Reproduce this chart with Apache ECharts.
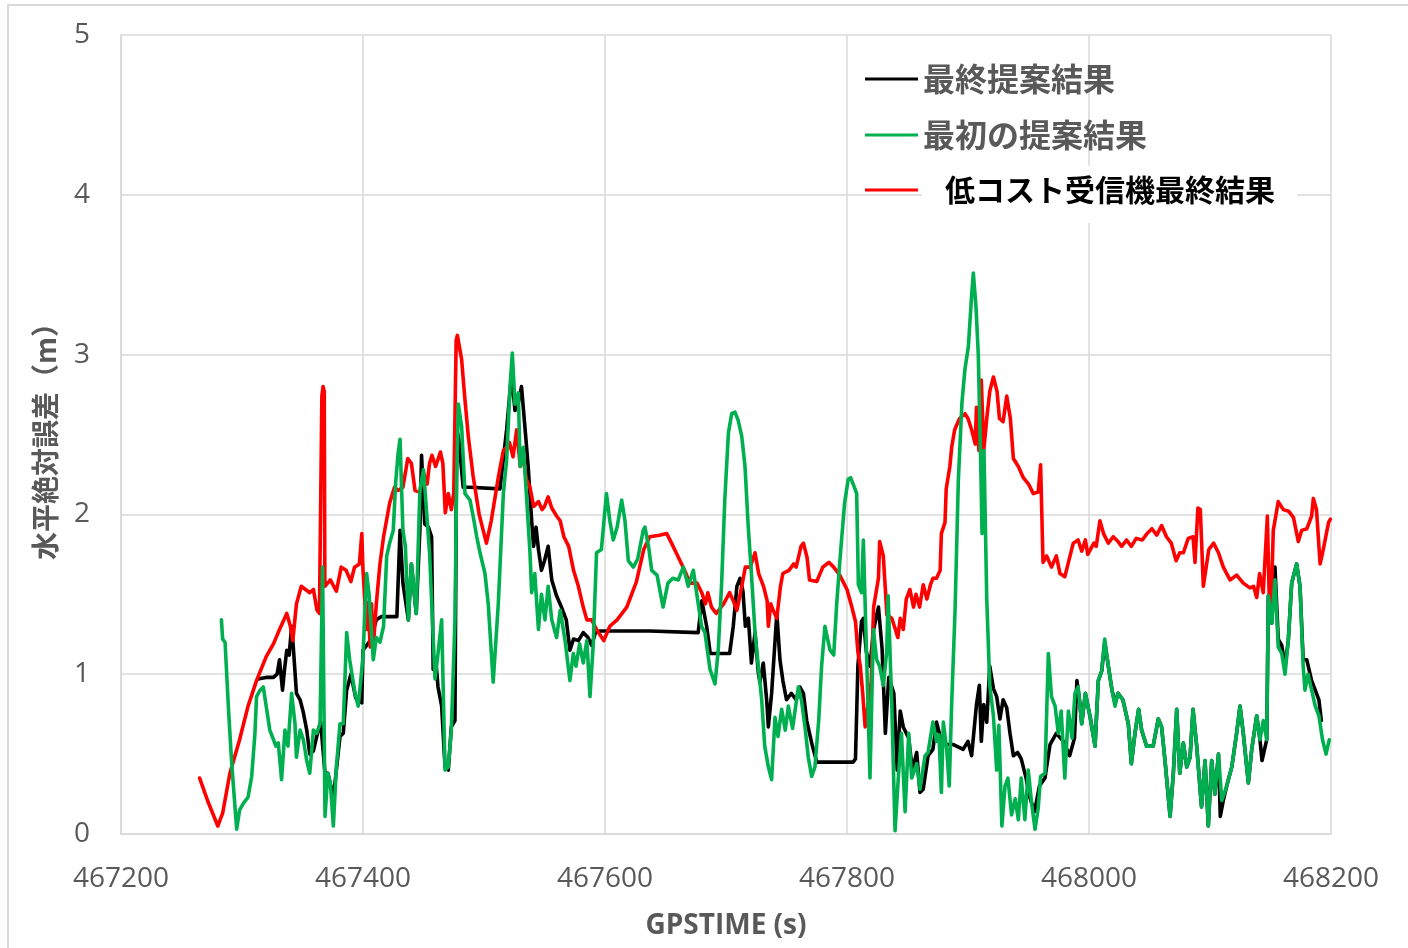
<!DOCTYPE html>
<html><head><meta charset="utf-8">
<script src="https://cdn.jsdelivr.net/npm/echarts@6/dist/echarts.min.js"></script>
<style>html,body{margin:0;padding:0;background:#fff}#c{width:1408px;height:948px}</style>
</head><body><div id="c"></div>
<script>
const seriesNames = ['最終提案結果', '最初の提案結果', '低コスト受信機最終結果'];
const seriesColors = ['#000000', '#00b050', '#ff0000'];
const xTicks = [467200, 467400, 467600, 467800, 468000, 468200];
const yTicks = [0, 1, 2, 3, 4, 5];

// 最終提案結果 (black)
const finalResult = [
[467313,0.97],[467320,0.98],[467326,0.98],[467329,1.0],[467331,1.09],[467333.5,0.90],[467335,1.02],[467337,1.15],[467339,1.12],[467341,1.30],[467342.4,1.17],[467345,0.88],[467348,0.84],[467350.7,0.76],[467353.5,0.65],[467356,0.50],[467359,0.52],[467363,0.65],[467365,0.70],
[467368.6,0.38],[467371,0.38],[467375.5,0.23],[467378,0.40],[467381,0.61],[467383.7,0.63],[467386.5,0.90],[467390,1.0],[467394,0.85],[467399,0.82],[467400,1.15],[467406,1.21],[467411,1.34],[467415,1.36],[467422,1.36],[467428,1.36],[467430.6,1.90],[467433,1.57],[467437.5,1.34],[467440,1.69],[467444,1.38],[467447,1.90],[467448.4,2.37],[467451,1.94],[467454,1.92],[467456.7,1.86],[467458,1.03],[467460,1.10],[467462,0.92],[467465,0.80],[467467.8,0.42],[467470.5,0.40],[467473,0.67],[467476,0.71],[467477.4,2.53],[467479,2.48],[467482.8,2.17],[467488.4,2.17],[467513.2,2.16],[467518.7,2.53],[467522.8,2.88],[467525.6,2.65],[467528.4,2.70],[467531,2.80],[467534,2.53],[467536.5,2.30],[467539.4,1.96],[467541,1.80],[467543,1.92],[467545,1.78],[467547.5,1.65],[467550,1.71],[467553,1.80],[467556,1.59],[467560,1.49],[467564,1.42],[467568,1.34],[467571,1.15],[467574,1.22],[467578,1.21],[467582,1.26],[467586,1.23],[467589,1.18],[467592,1.26],[467596,1.27],[467637,1.27],[467677,1.26],[467680,1.46],[467682,1.38],[467684,1.30],[467687,1.13],[467703,1.13],[467706,1.30],[467709,1.55],[467711.6,1.60],[467714,1.52],[467716,1.30],[467718.5,1.35],[467721,1.07],[467724,1.26],[467726.7,1.01],[467728,0.95],[467730.8,1.07],[467733.6,0.84],[467735,0.67],[467737.7,0.88],[467742,1.38],[467744.6,1.09],[467747,0.96],[467750,0.84],[467754,0.88],[467758,0.84],[467761,0.92],[467764,0.88],[467766.7,0.71],[467770.8,0.57],[467775,0.45],[467805,0.45],[467807,0.47],[467809,1.05],[467812,1.33],[467813.5,1.35],[467816,1.14],[467819,1.05],[467822,1.28],[467826,1.42],[467829,1.16],[467831.7,0.63],[467834.5,0.98],[467838.7,0.88],[467841.5,0.40],[467844,0.77],[467846.5,0.67],[467851,0.60],[467854,0.40],[467857.6,0.51],[467860.3,0.26],[467863,0.28],[467867,0.49],[467871,0.53],[467874,0.70],[467878,0.58],[467882,0.56],[467888,0.56],[467896,0.53],[467900,0.58],[467903,0.49],[467907,0.81],[467909.4,0.93],[467911,0.58],[467913,0.81],[467915.5,0.70],[467918,1.05],[467921,0.91],[467923.7,0.86],[467926.4,0.72],[467929,0.84],[467932,0.79],[467934.7,0.63],[467937.5,0.49],[467941,0.51],[467944,0.47],[467948,0.35],[467951,0.23],[467955,0.14],[467959,0.30],[467963.6,0.35],[467967.8,0.56],[467973,0.63],[467978.8,0.58],[467984,0.49],[467988,0.60],[467990,0.96],[467992,0.85],[467994,0.69],
[467997,0.88],[468001,0.73],[468005,0.55],[468007.7,0.96],[468010.5,1.02],[468013,1.20],[468016,1.05],[468019,0.90],[468021.5,0.82],[468024,0.88],[468028,0.84],[468032.5,0.69],[468035,0.44],[468038,0.63],[468041,0.78],[468043.5,0.65],[468047.6,0.55],[468053,0.55],[468057.3,0.72],[468060,0.67],[468062.8,0.46],[468067,0.11],[468069.7,0.38],[468072.5,0.78],[468075,0.38],[468078,0.57],[468080.8,0.42],[468083.5,0.48],[468086,0.78],[468089,0.55],[468093,0.17],[468095.9,0.46],[468098.6,0.05],[468101.4,0.46],[468104,0.25],[468107,0.50],[468108.5,0.11],[468111,0.21],[468113.8,0.30],[468118,0.42],[468122,0.63],[468124.8,0.80],[468127.5,0.63],[468131.7,0.32],[468134.5,0.53],[468138.6,0.74],[468141.3,0.59],[468143,0.46],[468146.9,0.59],[468148.2,1.49],[468151,1.32],[468153.7,1.67],[468156.4,1.22],[468159.3,1.18],[468162,1.05],[468164.7,1.21],[468167.5,1.57],[468171.6,1.69],[468174.4,1.55],[468177,1.09],[468180,1.09],[468184,0.96],[468187,0.90],[468190,0.84],[468192,0.71]
];

// 最初の提案結果 (green)
const initialResult = [
[467283,1.34],[467284,1.22],[467286,1.20],[467289,0.76],[467291.5,0.44],[467295.6,0.03],[467298,0.15],[467301,0.19],[467305,0.23],[467308,0.36],[467310.7,0.63],[467312,0.86],[467315,0.90],[467317.6,0.92],[467320,0.80],[467323,0.65],[467326,0.59],[467328,0.55],[467330,0.57],[467332.7,0.34],[467335.5,0.65],[467338,0.55],[467341,0.88],[467343.8,0.69],[467345,0.48],[467348,0.65],[467350.7,0.59],[467353.5,0.46],[467356,0.38],[467359,0.65],[467361.7,0.63],[467364.5,0.69],[467366.6,1.67],[467368.6,0.11],[467371,0.38],[467373,0.32],[467375.5,0.05],[467378,0.42],[467381,0.69],[467383.7,0.69],[467386.5,1.26],[467389,1.09],[467393.4,0.88],[467396,0.80],[467398,0.95],[467400,1.11],[467403,1.63],[467405,1.50],[467408.5,1.09],[467411,1.23],[467414,1.20],[467417,1.30],[467419.6,1.74],[467422,1.82],[467425,1.90],[467427,2.20],[467429,2.38],[467430.6,2.47],[467433,1.90],[467435,1.80],[467437.5,1.34],[467440,1.69],[467444,1.38],[467447,2.15],[467450,2.28],[467452.6,2.01],[467455,1.76],[467459.5,0.97],[467462,1.13],[467465,1.34],
[467467.8,0.40],[467470.5,0.42],[467473,0.65],[467476,1.34],[467477.4,2.22],[467478.8,2.69],[467481.5,2.55],[467484.3,2.13],[467488.4,2.09],[467491,1.99],[467494,1.86],[467496.7,1.76],[467500.8,1.63],[467503.5,1.44],[467507.6,0.95],[467511.8,1.44],[467516,2.13],[467518.7,2.34],[467521.5,2.80],[467523.4,3.01],[467525.6,2.69],[467528.4,2.76],[467529.8,2.30],[467532.5,2.42],[467535,2.13],[467538,1.76],[467539.4,1.51],[467542,1.63],[467545,1.28],[467547.5,1.50],[467550.4,1.34],[467553,1.55],[467556,1.34],[467560,1.23],[467563,1.40],[467567,1.21],[467571,0.96],[467573.8,1.13],[467576,1.05],[467579,1.19],[467582,1.07],[467585,1.21],[467587.6,0.86],[467590.3,1.19],[467593,1.76],[467597,1.78],[467601.2,2.13],[467604,1.96],[467606.8,1.84],[467610,1.92],[467613.8,2.09],[467616.5,1.96],[467619.3,1.71],[467623.4,1.67],[467627,1.72],[467631.6,1.90],[467633,1.92],[467636,1.80],[467638.6,1.65],[467643,1.62],[467648,1.42],[467652,1.57],[467656,1.60],[467660.6,1.59],[467664.7,1.67],[467668.8,1.55],[467673,1.65],[467675.7,1.51],[467679.8,1.30],[467682.6,1.26],[467686.8,1.03],[467690.9,0.94],[467693.6,1.15],[467696.4,1.57],[467699,2.09],[467702,2.51],[467704.7,2.63],[467707.4,2.64],[467710,2.59],[467713,2.49],[467715.7,2.30],[467718.4,1.92],[467721,1.63],[467724,1.26],[467726.7,1.05],[467729.5,0.84],[467732,0.55],[467735,0.42],[467737.7,0.34],[467740.5,0.73],[467743,0.61],[467746,0.78],[467749,0.65],[467751.5,0.80],[467755,0.66],[467759.8,0.92],[467762.5,0.83],[467765.3,0.67],[467768,0.48],[467770.8,0.36],[467773.5,0.42],[467776.6,0.71],[467779,1.05],[467781.8,1.30],[467784,1.22],[467786,1.15],[467789,1.12],[467791.5,1.44],[467794,1.70],[467798,2.07],[467801,2.22],[467803,2.23],[467806.6,2.16],[467808,2.13],[467809.4,1.56],[467812,1.51],[467813.5,1.84],[467816.3,1.09],[467819,0.35],[467821.8,1.28],[467824.5,1.09],[467827,1.05],[467830,0.93],[467832.8,1.14],[467834,1.49],[467837,0.81],[467839.7,0.02],[467842.4,0.35],[467845,0.63],[467848,0.14],[467851,0.63],[467853.5,0.35],[467857.6,0.44],[467860.3,0.28],[467864.5,0.49],[467867,0.51],[467871,0.70],[467874,0.58],[467876,0.62],[467878,0.26],[467879.6,0.70],[467882.4,0.53],[467884.5,0.30],[467886.5,0.81],[467889.3,1.40],[467892,2.21],[467895,2.70],[467897.5,2.91],[467900.3,3.05],[467903,3.37],[467904.4,3.51],[467906.6,3.30],[467908.5,3.00],[467910.5,2.33],[467911.6,1.88],[467913.2,2.40],[467915.5,1.47],[467918,0.93],[467921,0.74],[467923.7,0.40],[467925.5,0.68],[467928,0.05],[467930.6,0.30],[467933,0.35],[467936,0.12],[467939,0.22],[467941.6,0.09],[467944,0.35],[467947,0.09],[467949.8,0.40],[467952.6,0.19],[467955.4,0.03],[467958,0.16],[467960,0.36],[467963.6,0.38],[467966.4,1.13],[467969,0.86],[467972,0.80],[467974.6,0.63],[467977,0.77],[467980,0.35],[467983,0.77],[467986,0.60],[467988.4,0.88],
[467991,0.92],[467994,0.69],[467997,0.88],[468001,0.73],[468005,0.55],[468007.7,0.96],[468010.5,1.02],[468013,1.22],[468016,1.05],[468019,0.90],[468021.5,0.80],[468024,0.88],[468028,0.84],[468032.5,0.69],[468035,0.44],[468038,0.63],[468041,0.78],[468043.5,0.65],[468047.6,0.55],[468053,0.55],[468057.3,0.72],[468060,0.67],[468062.8,0.46],[468067,0.11],[468069.7,0.38],[468072.5,0.78],[468075,0.38],[468078,0.57],[468080.8,0.42],[468083.5,0.48],[468086,0.78],[468089,0.55],[468093,0.17],[468095.9,0.46],[468098.6,0.05],[468101.4,0.46],[468104,0.25],[468107,0.50],[468109.7,0.21],[468113.8,0.30],[468118,0.42],[468122,0.63],[468124.8,0.80],[468127.5,0.63],[468131.7,0.32],[468134.5,0.53],[468138.6,0.74],[468141.3,0.59],[468144,0.71],[468146.9,0.59],[468148.2,1.49],[468151,1.32],[468153.7,1.59],[468156.4,1.17],[468159.3,1.13],[468162,1.00],[468164.7,1.21],[468167.5,1.57],[468171.6,1.69],[468174.4,1.55],[468177,1.05],[468178.5,0.90],[468181,1.00],[468184,0.90],[468187,0.80],[468190,0.74],[468193,0.59],[468195.9,0.50],[468198.6,0.59]
];

// 低コスト受信機最終結果 (red)
const lowCostResult = [
[467265,0.35],[467272,0.20],[467280,0.05],[467284,0.13],[467290,0.38],[467298,0.59],[467305,0.80],[467312,0.96],[467320,1.11],[467326,1.19],[467331,1.28],[467337,1.38],[467340,1.30],[467342,1.21],[467345,1.44],[467349,1.55],[467356,1.51],[467359,1.53],[467362,1.40],[467364,1.38],[467366,2.74],[467367,2.80],[467368,2.77],[467368.5,1.55],[467373,1.59],[467378,1.52],[467382,1.67],[467386,1.65],[467390,1.58],[467393,1.67],[467397,1.69],[467399,1.88],[467400,1.65],[467403,1.28],[467404,1.45],[467406,1.17],[467407,1.44],[467408.5,1.17],[467411,1.44],[467414,1.69],[467417,1.86],[467422,2.07],[467426,2.17],[467429,2.15],[467433,2.17],[467437,2.35],[467440,2.32],[467443,2.15],[467447,2.14],[467450,2.26],[467453,2.19],[467455,2.32],[467457,2.37],[467460,2.30],[467464,2.39],[467466,2.32],[467468,2.01],[467470.5,2.13],[467473,2.03],[467475,2.13],[467477,3.09],[467478,3.12],[467481.5,2.97],[467484,2.74],[467487,2.49],[467491,2.24],[467496,2.00],[467502,1.82],[467506,1.96],[467512,2.24],[467516,2.40],[467520,2.43],[467521,2.45],[467524,2.36],[467527,2.53],[467530,2.30],[467532,2.38],[467535,2.22],[467538,2.17],[467541,2.05],[467545,2.08],[467548,2.03],[467550,2.05],[467553,2.11],[467556,2.04],[467560,1.99],[467563,1.96],[467566,1.86],[467570,1.80],[467574,1.65],[467578,1.55],[467582,1.42],[467585,1.34],[467589,1.34],[467593,1.28],[467599,1.21],[467604,1.30],[467610,1.34],[467618,1.42],[467626,1.58],[467632,1.78],[467637,1.86],[467645,1.87],[467651,1.88],[467655,1.82],[467662,1.71],[467667,1.63],[467670,1.57],[467676,1.57],[467680,1.51],[467683,1.44],[467685,1.51],[467688,1.42],[467692,1.38],[467698,1.44],[467703,1.51],[467706,1.46],[467709,1.40],[467712,1.51],[467716,1.67],[467720,1.67],[467724,1.76],[467727,1.63],[467731,1.55],[467734,1.46],[467735,1.30],[467737,1.44],[467739,1.40],[467742,1.35],[467745,1.55],[467747,1.63],[467752,1.65],[467756,1.69],[467758,1.67],[467762,1.80],[467764,1.82],[467767,1.73],[467769,1.59],[467775,1.58],[467780,1.67],[467785,1.70],[467789,1.67],[467794,1.62],[467800,1.53],[467804,1.42],[467807,1.33],[467809,1.14],[467811,1.05],[467813,0.88],[467815,0.67],[467818,0.84],[467820,0.95],[467822,1.42],[467826,1.60],[467827,1.83],[467830,1.74],[467833,1.37],[467837,1.35],[467840,1.28],[467842,1.23],[467844,1.35],[467846.5,1.28],[467849,1.47],[467852,1.53],[467855,1.42],[467857,1.50],[467860,1.42],[467863,1.56],[467866,1.47],[467869,1.56],[467871,1.60],[467874,1.60],[467877,1.65],[467878,1.88],[467881,1.95],[467882,2.16],[467885,2.30],[467886.5,2.42],[467889,2.53],[467893,2.60],[467897.5,2.63],[467900,2.60],[467903,2.53],[467906,2.44],[467907,2.67],[467909,2.40],[467911,2.84],[467913,2.40],[467915.5,2.60],[467918,2.77],[467921,2.86],[467924,2.77],[467926,2.60],[467929,2.58],[467932,2.74],[467935,2.60],[467937.5,2.35],[467941.6,2.30],[467945.7,2.23],[467950,2.19],[467954,2.13],[467958,2.14],[467960,2.31],[467962,1.70],[467965,1.74],[467969,1.67],[467973,1.74],[467976,1.63],[467980,1.61],[467983,1.70],[467987,1.82],[467991,1.84],[467994,1.77],[467997,1.84],[467999,1.75],[468004,1.82],[468006,1.80],[468009,1.96],[468012,1.88],[468016,1.82],[468020,1.86],[468024,1.83],[468027,1.80],[468031,1.84],[468035,1.80],[468039,1.85],[468044,1.84],[468048,1.88],[468052,1.91],[468056,1.87],[468060,1.93],[468064,1.86],[468068,1.82],[468072,1.71],[468075,1.76],[468078,1.76],[468082,1.85],[468086,1.86],[468087.6,1.70],[468090,2.04],[468092,2.03],[468094.5,1.55],[468099,1.78],[468103,1.82],[468107,1.76],[468111,1.67],[468116.5,1.59],[468122,1.62],[468127.5,1.57],[468133,1.54],[468136,1.55],[468138.6,1.48],[468141,1.63],[468144,1.51],[468147.4,1.99],[468149,1.46],[468150.5,1.42],[468152.3,1.90],[468156.4,2.08],[468160.6,2.03],[468165,2.02],[468169,1.98],[468173,1.83],[468175.7,1.90],[468180,1.91],[468184,1.99],[468185.4,2.10],[468188,2.03],[468191,1.69],[468193.6,1.78],[468198,1.95],[468199.5,1.97]
];

const chart = echarts.init(document.getElementById('c'), null, {renderer: 'canvas'});
const axisFont = {fontFamily: '"Open Sans", "Noto Sans CJK JP", sans-serif', fontSize: 28, color: '#595959'};

function lineSeries(name, data, color) {
  return {
    name: name, type: 'line', data: data, showSymbol: false, symbol: 'none',
    lineStyle: {color: color, width: 3.6, join: 'round', cap: 'round'},
    itemStyle: {color: color},
    animation: false
  };
}

chart.setOption({
  backgroundColor: '#ffffff',
  animation: false,
  grid: {left: 121, right: 77, top: 35, bottom: 114, containLabel: false},
  graphic: [
    {type: 'rect', z: 100, silent: true, shape: {x: 8, y: 5, width: 1420, height: 960},
     style: {fill: 'none', stroke: '#d9d9d9', lineWidth: 2}},
    {type: 'rect', z: 1, silent: true, shape: {x: 922, y: 166, width: 375, height: 57},
     style: {fill: '#ffffff'}}
  ],
  legend: {
    orient: 'vertical', left: 865, top: 63, padding: 0, itemWidth: 53, itemHeight: 3, itemGap: 24,
    icon: 'rect',
    textStyle: {fontFamily: '"Noto Sans CJK JP", sans-serif', fontSize: 32, fontWeight: 'bold', color: '#595959'},
    data: [
      {name: seriesNames[0]},
      {name: seriesNames[1]},
      {name: seriesNames[2], textStyle: {color: '#000000', fontSize: 30, padding: [0, 0, 0, 22]}}
    ]
  },
  xAxis: {
    type: 'value', min: xTicks[0], max: xTicks[xTicks.length - 1], interval: 200,
    name: 'GPSTIME (s)', nameLocation: 'middle', nameGap: 78,
    nameTextStyle: {fontFamily: '"Open Sans", sans-serif', fontSize: 28, fontWeight: 'bold', color: '#595959'},
    axisLine: {show: true, lineStyle: {color: '#d9d9d9', width: 1.5}},
    axisTick: {show: false},
    axisLabel: Object.assign({margin: 31, formatter: v => String(v)}, axisFont),
    splitLine: {show: true, lineStyle: {color: '#d9d9d9', width: 1.5}}
  },
  yAxis: {
    type: 'value', min: yTicks[0], max: yTicks[yTicks.length - 1], interval: 1,
    name: '水平絶対誤差（m）', nameLocation: 'middle', nameGap: 62, nameRotate: 90,
    nameTextStyle: {fontFamily: '"Noto Sans CJK JP", sans-serif', fontSize: 28, fontWeight: 'bold', color: '#595959'},
    axisLine: {show: true, lineStyle: {color: '#d9d9d9', width: 1.5}},
    axisTick: {show: false},
    axisLabel: Object.assign({margin: 31}, axisFont),
    splitLine: {show: true, lineStyle: {color: '#d9d9d9', width: 1.5}}
  },
  series: [
    lineSeries(seriesNames[0], finalResult, seriesColors[0]),
    lineSeries(seriesNames[2], lowCostResult, seriesColors[2]),
    lineSeries(seriesNames[1], initialResult, seriesColors[1])
  ]
});
</script>
</body></html>
